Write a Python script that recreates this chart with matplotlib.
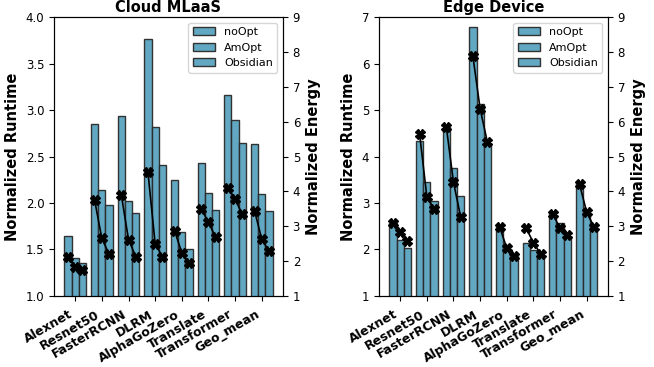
import numpy as np
import matplotlib
matplotlib.use("Agg")
import matplotlib.pyplot as plt

models = ["Alexnet", "Resnet50", "FasterRCNN", "DLRM", "AlphaGoZero",
          "Translate", "Transformer", "Geo_mean"]
series = ["noOpt", "AmOpt", "Obsidian"]

# Cloud MLaaS
cloud_runtime_noopt = [1.65, 2.85, 2.94, 3.76, 2.25, 2.43, 3.16, 2.64]
cloud_runtime_amopt = [1.41, 2.14, 2.02, 2.82, 1.69, 2.11, 2.89, 2.10]
cloud_runtime_obs = [1.35, 1.98, 1.89, 2.41, 1.51, 1.92, 2.65, 1.91]
cloud_energy_noopt = [2.13, 3.74, 3.90, 4.55, 2.87, 3.50, 4.11, 3.45]
cloud_energy_amopt = [1.82, 2.65, 2.62, 2.50, 2.24, 3.12, 3.78, 2.63]
cloud_energy_obs = [1.75, 2.20, 2.13, 2.13, 1.94, 2.68, 3.34, 2.29]

# Edge Device
edge_runtime_noopt = [2.58, 4.33, 4.63, 6.79, 2.53, 2.15, 2.79, 3.42]
edge_runtime_amopt = [2.20, 3.45, 3.76, 5.12, 2.10, 1.99, 2.56, 2.84]
edge_runtime_obs = [2.04, 3.05, 3.15, 4.30, 1.91, 1.83, 2.27, 2.50]
edge_energy_noopt = [3.10, 5.64, 5.86, 7.87, 2.99, 2.94, 3.35, 4.21]
edge_energy_amopt = [2.83, 3.85, 4.26, 6.37, 2.37, 2.53, 2.94, 3.40]
edge_energy_obs = [2.58, 3.50, 3.27, 5.42, 2.15, 2.21, 2.74, 2.99]

bar_color = "#5ba4bf"
width = 0.27


def draw_panel(ax, runtimes, energies, title, ylim, yticks):
    x = np.arange(len(models))
    for i, (vals, name) in enumerate(zip(runtimes, series)):
        ax.bar(x + (i - 1) * width, vals, width, color=bar_color,
               edgecolor="#2a2a2a", linewidth=1.0, alpha=0.95, label=name)
    ax.set_ylim(*ylim)
    ax.set_yticks(yticks)
    ax.tick_params(axis="y", labelsize=8.5)
    ax.set_xticks(x)
    ax.set_xticklabels(models, rotation=30, ha="right", fontweight="bold",
                       fontsize=9)
    ax.tick_params(axis="x", pad=5)
    ax.set_ylabel("Normalized Runtime", fontweight="bold", fontsize=10.5)
    ax.set_title(title, fontweight="bold", fontsize=10.5, pad=4)
    ax.legend(loc="upper right", fontsize=8)

    ax2 = ax.twinx()
    for j in range(len(models)):
        xs = [j - width, j, j + width]
        ys = [energies[0][j], energies[1][j], energies[2][j]]
        ax2.plot(xs, ys, color="black", linewidth=1.2, marker="X",
                 markersize=7)
    ax2.set_ylim(1, 9)
    ax2.set_yticks(range(1, 10))
    ax2.tick_params(axis="y", labelsize=8.5)
    ax2.set_ylabel("Normalized Energy", fontweight="bold", fontsize=10.5)
    return ax2


fig = plt.figure(figsize=(6.54, 3.67), dpi=100)
ax1 = fig.add_axes([0.0826, 0.1935, 0.350, 0.760])
ax3 = fig.add_axes([0.5795, 0.1935, 0.350, 0.760])

draw_panel(ax1,
           [cloud_runtime_noopt, cloud_runtime_amopt, cloud_runtime_obs],
           [cloud_energy_noopt, cloud_energy_amopt, cloud_energy_obs],
           "Cloud MLaaS", (1.0, 4.0), np.arange(1.0, 4.01, 0.5))
draw_panel(ax3,
           [edge_runtime_noopt, edge_runtime_amopt, edge_runtime_obs],
           [edge_energy_noopt, edge_energy_amopt, edge_energy_obs],
           "Edge Device", (1, 7), range(1, 8))

fig.savefig("out.png", dpi=100)
